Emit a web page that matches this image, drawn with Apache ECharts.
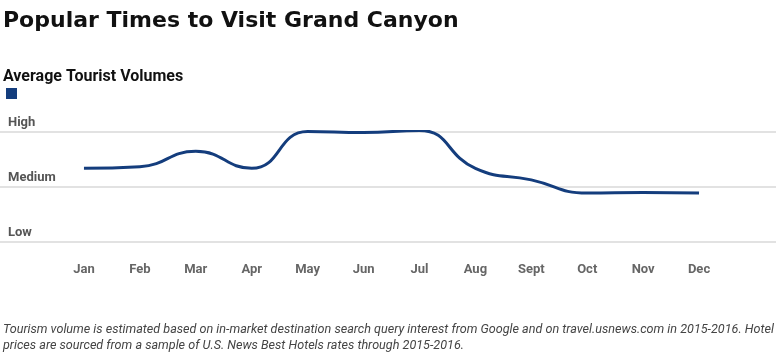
<!DOCTYPE html>
<html>
<head>
<meta charset="utf-8">
<script src="https://cdn.jsdelivr.net/npm/echarts@6/dist/echarts.min.js"></script>
<style>
  html, body { margin: 0; padding: 0; background: #fff; }
  #chart { width: 776px; height: 353px; }
</style>
</head>
<body>
<div id="chart"></div>
<script>
var months = ['Jan', 'Feb', 'Mar', 'Apr', 'May', 'Jun', 'Jul', 'Aug', 'Sept', 'Oct', 'Nov', 'Dec'];
// 0 = Low, 1 = Medium, 2 = High
var volumes = [1.33, 1.36, 1.64, 1.33, 2.0, 1.98, 2.02, 1.33, 1.12, 0.88, 0.89, 0.88];
var levelLabels = ['Low', 'Medium', 'High'];

var chart = echarts.init(document.getElementById('chart'));
var condensed = 'Roboto, sans-serif';

var option = {
  animation: false,
  title: [
    {
      text: 'Popular Times to Visit Grand Canyon',
      left: -2,
      top: 5,
      textStyle: { fontFamily: '"DejaVu Sans", sans-serif', fontWeight: 'bold', fontSize: 22, color: '#111' }
    },
    {
      text: 'Average Tourist Volumes',
      left: -2,
      top: 64,
      textStyle: { fontFamily: condensed, fontWeight: 'bold', fontSize: 16, color: '#111' }
    },
    {
      text: 'Tourism volume is estimated based on in-market destination search query interest from Google and on travel.usnews.com in 2015-2016. Hotel\nprices are sourced from a sample of U.S. News Best Hotels rates through 2015-2016.',
      left: -2,
      top: 317,
      textStyle: { fontFamily: condensed, fontStyle: 'italic', fontWeight: 'normal', fontSize: 12.6, lineHeight: 16, color: '#444' }
    }
  ],
  legend: {
    left: 6,
    top: 88,
    padding: 0,
    icon: 'rect',
    itemWidth: 11,
    itemHeight: 11,
    formatter: function () { return ''; },
    data: ['Average Tourist Volumes']
  },
  grid: [
    { left: 0, right: 0, top: 131.5, bottom: 111.5 },
    { left: 56, right: 49, top: 131.5, bottom: 111.5 }
  ],
  xAxis: [
    { type: 'category', gridIndex: 0, show: false, data: months },
    {
      type: 'category',
      gridIndex: 1,
      data: months,
      boundaryGap: true,
      axisLine: { show: false },
      axisTick: { show: false },
      axisLabel: { margin: 22, fontFamily: condensed, fontWeight: 'bold', fontSize: 13, color: '#666' }
    }
  ],
  yAxis: [
    {
      type: 'value',
      gridIndex: 0,
      min: 0,
      max: 2,
      interval: 1,
      axisLine: { show: false },
      axisTick: { show: false },
      splitLine: { lineStyle: { color: '#e2e2e2', width: 2 } },
      axisLabel: {
        inside: true,
        margin: 8,
        align: 'left',
        verticalAlign: 'bottom',
        padding: [0, 0, 2, 0],
        fontFamily: condensed,
        fontWeight: 'bold',
        fontSize: 13,
        color: '#555',
        formatter: function (v) { return levelLabels[v]; }
      }
    },
    { type: 'value', gridIndex: 1, min: 0, max: 2, show: false }
  ],
  series: [
    {
      name: 'Average Tourist Volumes',
      type: 'line',
      xAxisIndex: 1,
      yAxisIndex: 1,
      data: volumes,
      smooth: 0.5,
      showSymbol: false,
      color: '#143d7d',
      lineStyle: { width: 3, color: '#143d7d' }
    }
  ]
};

chart.setOption(option);
</script>
</body>
</html>
